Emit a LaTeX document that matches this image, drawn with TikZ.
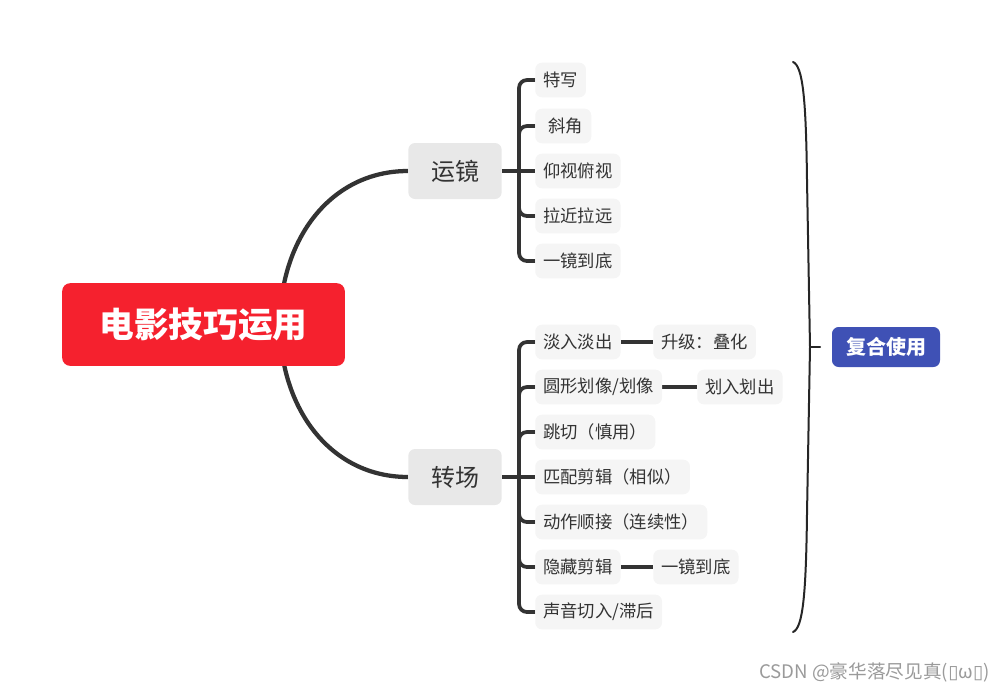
\documentclass[tikz,border=0pt]{standalone}
\usepackage{fontspec}
\setmainfont{Noto Sans CJK SC}
\newfontfamily\boxfont{DejaVu Sans}
\usetikzlibrary{backgrounds}
\definecolor{rootred}{HTML}{F5212E}
\definecolor{topicgray}{HTML}{E8E8E8}
\definecolor{subgray}{HTML}{F5F5F5}
\definecolor{ink}{HTML}{333333}
\definecolor{mixblue}{HTML}{3F51B5}
\definecolor{wmgray}{HTML}{9A9A9A}

\begin{document}
\begin{tikzpicture}[x=0.75pt, y=-0.75pt,
  root/.style={fill=rootred, rounded corners=6pt, text=white, font=\fontsize{26}{30}\selectfont\bfseries, minimum width=212pt, minimum height=62pt},
  topic/.style={fill=topicgray, rounded corners=5pt, text=ink, font=\fontsize{18}{22}\selectfont, minimum width=70pt, minimum height=42pt},
  sub/.style={fill=subgray, rounded corners=5pt, text=ink, font=\fontsize{13}{16}\selectfont, minimum height=26pt, inner xsep=6pt, anchor=west},
  mix/.style={fill=mixblue, rounded corners=5pt, text=white, font=\fontsize{15}{18}\selectfont\bfseries, minimum width=81pt, minimum height=30pt},
  wm/.style={text=wmgray, font=\fontsize{14}{16}\selectfont, anchor=east, inner sep=0pt},
  trunk/.style={draw=ink, line width=3.2pt},
  twig/.style={draw=ink, line width=2.8pt, rounded corners=6pt},
  brace/.style={draw=black!85, line width=1.5pt, line cap=round}
]
\useasboundingbox (0,0) rectangle (1003,693);

\node[root] (film) at (203.5,324.5) {电影技巧运用};
\coordinate (fr) at (280,324);

\node[topic] (yj) at (455,171) {运镜};
\coordinate (yjs) at (519,171);
\node[sub] (yj1) at (535,80) {特写};
\node[sub] (yj2) at (535,126) {\hspace{4pt}斜角};
\node[sub] (yj3) at (535,171) {仰视俯视};
\node[sub] (yj4) at (535,216) {拉近拉远};
\node[sub] (yj5) at (535,261) {一镜到底};

\node[topic] (zc) at (455,477) {转场};
\coordinate (zcs) at (519,477);
\node[sub] (zc1) at (535,342) {淡入淡出};
\node[sub] (zc1a) at (653,342) {升级：叠化};
\node[sub] (zc2) at (535,387) {圆形划像/划像};
\node[sub] (zc2a) at (697,387) {划入划出};
\node[sub] (zc3) at (535,432) {跳切（慎用）};
\node[sub] (zc4) at (535,477) {匹配剪辑（相似）};
\node[sub] (zc5) at (535,522) {动作顺接（连续性）};
\node[sub] (zc6) at (535,567) {隐藏剪辑};
\node[sub] (zc6a) at (653,567) {一镜到底};
\node[sub] (zc7) at (535,612) {声音切入/滞后};

% summary brace
\coordinate (bt) at (793,62);
\coordinate (bm) at (810,347);
\coordinate (bb) at (793,632);
\coordinate (tk) at (820,347);
\node[mix] (fh) at (886,347) {复合使用};
\draw[brace] (bt) .. controls (803,66) and (806,100) .. (807,180) -- (bm) -- (807,514) .. controls (806,594) and (803,628) .. (bb);
\draw[brace] (bm) -- (tk);

\node[wm] (csdn) at (990,672) {CSDN @豪华落尽见真({\boxfont ▯}ω{\boxfont ▯})};

\begin{scope}[on background layer]
\draw[trunk] (fr) .. controls (280,240) and (330,171) .. (yj.west);
\draw[trunk] (fr) .. controls (280,408) and (330,477) .. (zc.west);
\draw[twig] (yj.east) -- (yjs);
\draw[twig] (yjs) |- (yj1.west);
\draw[twig] (yjs) |- (yj2.west);
\draw[twig] (yjs) -- (yj3.west);
\draw[twig] (yjs) |- (yj4.west);
\draw[twig] (yjs) |- (yj5.west);
\draw[twig] (zc.east) -- (zcs);
\draw[twig] (zcs) |- (zc1.west);
\draw[twig] (zcs) |- (zc2.west);
\draw[twig] (zcs) |- (zc3.west);
\draw[twig] (zcs) -- (zc4.west);
\draw[twig] (zcs) |- (zc5.west);
\draw[twig] (zcs) |- (zc6.west);
\draw[twig] (zcs) |- (zc7.west);
\draw[twig] (zc1.east) -- (zc1a.west);
\draw[twig] (zc2.east) -- (zc2a.west);
\draw[twig] (zc6.east) -- (zc6a.west);
\end{scope}
\end{tikzpicture}
\end{document}
